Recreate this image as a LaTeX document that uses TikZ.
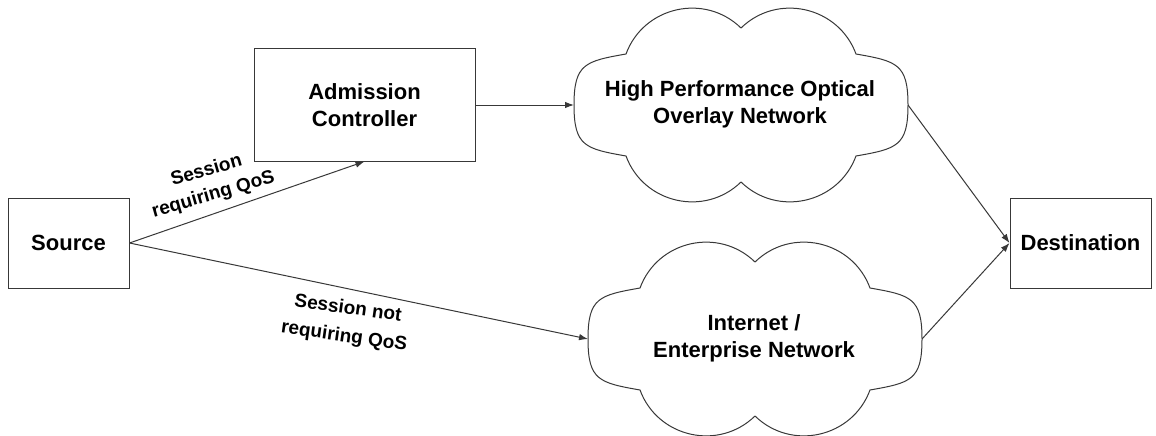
\documentclass[tikz,border=0pt]{standalone}
\usepackage{fontspec}
\setmainfont{Liberation Sans}
\usetikzlibrary{arrows.meta}
\begin{document}
\begin{tikzpicture}[x=1pt,y=1pt,
  ink/.style={draw=black!78, line width=1pt},
  box/.style={ink, rectangle, align=center, inner sep=0pt,
    font=\bfseries\fontsize{22}{27}\selectfont},
  cloudtext/.style={align=center, inner sep=0pt,
    font=\bfseries\fontsize{22}{27}\selectfont},
  edgelabel/.style={align=center, inner sep=0pt,
    font=\bfseries\fontsize{19}{25}\selectfont},
  arr/.style={ink, -{Latex[length=9pt,width=6.5pt]}},
  netcloud/.pic={
    \draw[ink, line join=round]
      (-115,-51) to[out=170,in=-90,looseness=1.45] (-167,0)
                 to[out=90,in=190,looseness=1.45] (-115,51)
                 to[bend left=57,looseness=1.1] (0,77)
                 to[bend left=57,looseness=1.1] (115,51)
                 to[out=-10,in=90,looseness=1.45] (167,0)
                 to[out=-90,in=10,looseness=1.45] (115,-51)
                 to[bend left=57,looseness=1.1] (0,-77)
                 to[bend left=57,looseness=1.1] (-115,-51) -- cycle;
  }
]
\useasboundingbox (0,0) rectangle (1156,-436);
\fill[white] (0,0) rectangle (1156,-436);

% end systems and the admission controller
\node[box, minimum width=121, minimum height=90] (src) at (68.5,-243) {Source};
\node[box, minimum width=221, minimum height=112] (adm) at (364.5,-105) {Admission\\Controller};
\node[box, minimum width=141, minimum height=90] (dst) at (1080.5,-243) {Destination};

% the two networks
\pic at (741,-105) {netcloud};
\node[cloudtext] (hpc) at (740,-104) {High Performance Optical\\Overlay Network};
\coordinate (hpc-w) at (574,-105);
\coordinate (hpc-e) at (908,-105);

\pic at (755,-339) {netcloud};
\node[cloudtext] (inet) at (754,-338) {Internet /\\Enterprise Network};
\coordinate (inet-w) at (588,-339);
\coordinate (inet-e) at (922,-339);

% sessions
\draw[arr] (src.east) -- (adm.south);
\draw[arr] (src.east) -- (inet-w);
\draw[arr] (adm.east) -- (hpc-w);
\draw[arr] (hpc-e) -- (dst.west);
\draw[arr] (inet-e) -- (dst.west);

\node[edgelabel, rotate=16] (lblqos) at (210,-183) {Session\\requiring QoS};
\node[edgelabel, rotate=-8, font=\bfseries\fontsize{19}{28}\selectfont] (lblnoqos) at (346,-323) {Session not\\requiring QoS};
\end{tikzpicture}
\end{document}
